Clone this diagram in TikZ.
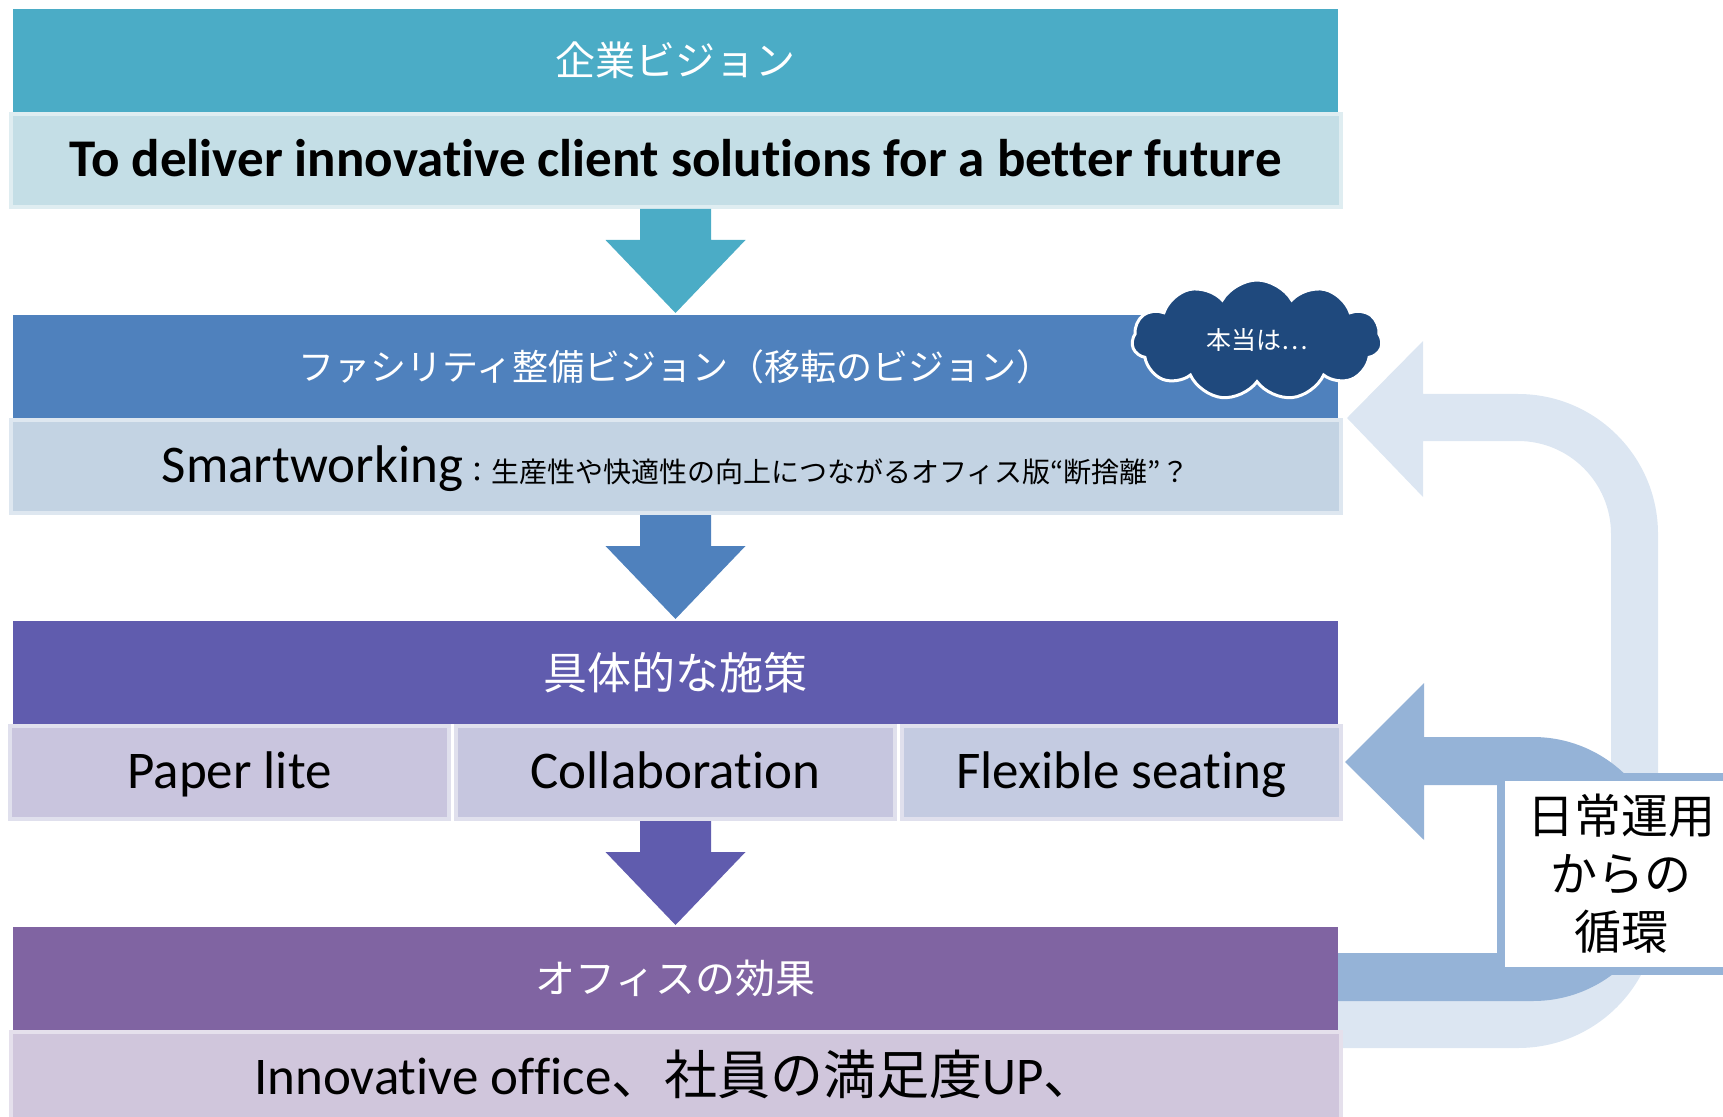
\documentclass[tikz,border=0pt]{standalone}
\usepackage{fontspec}
\usepackage{xcolor}
\usepackage{tikz}
\usetikzlibrary{shapes.symbols, positioning, calc}
\setmainfont{Carlito}[Ligatures=NoCommon]
\newfontfamily\jpfont{Noto Sans CJK JP}
\definecolor{visionteal}{RGB}{75,172,198}
\definecolor{visionlt}{RGB}{196,222,230}
\definecolor{facilityblue}{RGB}{79,129,189}
\definecolor{facilitylt}{RGB}{195,211,227}
\definecolor{measurepurple}{RGB}{96,92,174}
\definecolor{measurelt}{RGB}{198,198,223}
\definecolor{effectplum}{RGB}{128,100,162}
\definecolor{effectlt}{RGB}{208,198,220}
\definecolor{loopblue}{RGB}{149,179,215}
\definecolor{looppale}{RGB}{220,230,242}
\definecolor{cloudnavy}{RGB}{31,73,125}
\tikzset{
    headbar/.style={
        minimum width=662.5pt, minimum height=51.5pt, inner sep=0pt, outer sep=0pt,
        text=white, font=\jpfont\fontsize{20}{24}\selectfont
    },
    bodybar/.style={
        minimum width=665pt, minimum height=46.5pt, inner sep=0pt, line width=2pt,
        text height=19.5pt, text depth=3.5pt,
        text=black, font=\fontsize{26.5}{30}\selectfont
    },
    cellbar/.style={
        bodybar, minimum width=219.5pt
    }
}

\begin{document}
\begin{tikzpicture}[
        x=0.5pt, y=-0.5pt,
        % Style cho khung chu
        loopbox/.style={
            draw=loopblue, line width=4pt, fill=white, inner sep=0pt,
            minimum width=120pt, minimum height=97pt, align=center,
            font=\jpfont\fontsize{23.5}{29}\selectfont
        },
        % Style cho dam may
        hintcloud/.style={
            cloud, cloud puffs=11, cloud puff arc=120, aspect=2,
            fill=cloudnavy, draw=white, line width=1.5pt, inner sep=0pt,
            minimum width=125pt, minimum height=60pt, text=white,
            font=\jpfont\fontsize{12.5}{14}\selectfont
        }
    ]
    \useasboundingbox (0,0) rectangle (1723,1117);

    % --- 1. LOOP ARROWS ---
    \fill[looppale] (1518,394) arc[start angle=-90, end angle=0, radius=140]
        -- (1658,908) arc[start angle=0, end angle=90, radius=140]
        -- (1335,1048) -- (1335,1001) -- (1518,1001)
        arc[start angle=90, end angle=0, radius=93]
        -- (1611,534) arc[start angle=0, end angle=-90, radius=93]
        -- (1423,441) -- (1423,497) -- (1347,418) -- (1423,341) -- (1423,394) -- cycle;
    \fill[loopblue] (1533,737) arc[start angle=-90, end angle=90, radius=132]
        -- (1335,1001) -- (1335,953) -- (1533,953)
        arc[start angle=90, end angle=-90, radius=84]
        -- (1424,785) -- (1424,840) -- (1345,762) -- (1424,683) -- (1424,737) -- cycle;

    % --- 2. BANDS ---
    \node[headbar, fill=visionteal] (head1) at (675.5,60.5) {企業ビジョン};
    \node[bodybar, fill=visionlt, draw=visionlt!55!white, below=0pt of head1] (body1)
        {\bfseries To deliver innovative client solutions for a better future};

    \node[headbar, fill=facilityblue, below=53pt of body1,
        font=\jpfont\fontsize{18}{22}\selectfont] (head2) {ファシリティ整備ビジョン（移転のビジョン）};
    \node[bodybar, fill=facilitylt, draw=facilitylt!55!white, below=0pt of head2] (body2)
        {Smartworking{\jpfont\fontsize{14}{16}\selectfont ：生産性や快適性の向上につながるオフィス版“断捨離”？}};

    \node[headbar, fill=measurepurple, below=53pt of body2,
        font=\jpfont\fontsize{22}{26}\selectfont] (head3) {具体的な施策};
    \node[cellbar, fill=measurelt, draw=measurelt!55!white, below=0pt of head3] (cellb) {Collaboration};
    \node[cellbar, fill={rgb,255:red,201;green,197;blue,222}, draw=measurelt!55!white, left=1.5pt of cellb] (cella) {Paper lite};
    \node[cellbar, fill={rgb,255:red,196;green,203;blue,225}, draw=measurelt!55!white, right=1.5pt of cellb] (cellc) {Flexible seating};

    \node[headbar, fill=effectplum, below=53pt of cellb] (head4) {オフィスの効果};
    \node[bodybar, fill=effectlt, draw=effectlt!55!white, below=0pt of head4] (body4)
        {Innovative office{\jpfont 、社員の満足度}UP{\jpfont 、}};

    % --- 3. DOWN ARROWS ---
    \foreach \src/\dst/\col in {body1/head2/visionteal, body2/head3/facilityblue, cellb/head4/measurepurple} {
        \fill[\col] ($(\src.south)+(-35.5,0)$) -- ++(71,0) -- ++(0,31) -- ++(34.5,0)
            -- ($(\dst.north)+(0,-2)$) -- ($(\src.south)+(-70,31)$) -- ++(34.5,0) -- cycle;
    }

    % --- 4. LABELS ---
    \node[loopbox] (routine) at (1621,874) {日常運用\\からの\\循環};
    \node[hintcloud] (hint) at (1257,340) {{\jpfont 本当は}…};

\end{tikzpicture}
\end{document}
